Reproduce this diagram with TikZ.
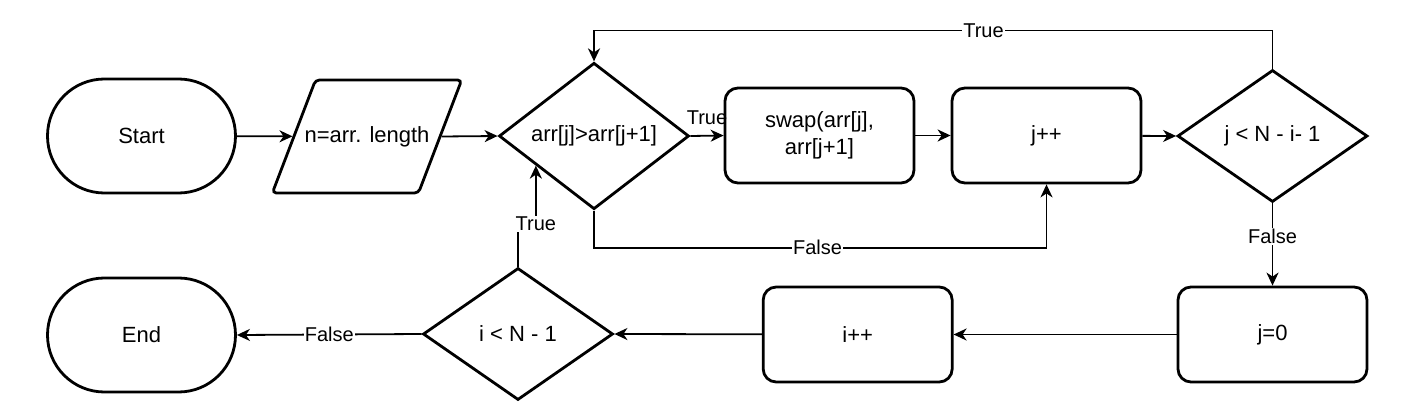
\documentclass[tikz,border=0pt]{standalone}
\usepackage{fontspec}
\setmainfont{Liberation Sans}
\usetikzlibrary{shapes.geometric, arrows.meta}

\begin{document}
\begin{tikzpicture}[x=1pt, y=-1pt,
    >={Stealth[length=13pt, width=12pt, inset=4pt]},
    every node/.style={font=\fontsize{22}{27}\selectfont},
    terminal/.style={draw, line width=2.8pt, rectangle, rounded corners=56.9pt,
      minimum width=188pt, minimum height=114pt},
    io/.style={draw, line width=2.8pt, trapezium, trapezium left angle=69,
      trapezium right angle=111, trapezium stretches body=true, rounded corners=4pt,
      inner xsep=-11pt, inner ysep=46pt, minimum height=113pt},
    decision/.style={draw, line width=2.8pt, diamond, inner sep=0pt,
      minimum width=190pt, minimum height=132pt},
    process/.style={draw, line width=2.8pt, rectangle, rounded corners=13pt,
      minimum width=189pt, minimum height=95pt, align=center},
    link/.style={line width=1.8pt},
    lbl/.style={font=\fontsize{20}{24}\selectfont, fill=white, inner sep=1pt}]

  \useasboundingbox (0,0) rectangle (1421,417);

  % Top row
  \node[terminal] (start) at (141.5,136) {Start};
  \node[io]       (len)   at (367,136.5)  {n=arr. length};
  \node[decision] (cmp)   at (594,136)    {arr[j]>arr[j+1]};
  \node[process]  (swap)  at (819.5,135.5) {swap(arr[j],\\arr[j+1]};
  \node[process]  (incj)  at (1046.5,135.5) {j++};
  \node[decision] (loopj) at (1272.5,136)  {j < N - i- 1};

  % Bottom row
  \node[process]  (resetj) at (1272.5,334.5) {j=0};
  \node[process]  (inci)   at (857.7,334.5)  {i++};
  \node[decision] (loopi)  at (518,334)      {i < N - 1};
  \node[terminal] (stop)   at (141.5,335)    {End};

  % Straight arrows
  \draw[link, ->] (start) -- (len);
  \draw[link, ->] (len.east) -- (cmp.west);
  \draw[link, ->] (cmp.east) -- node[lbl, fill=none, above=9pt] {True} (swap.west);
  \draw[link, ->] (swap) -- (incj);
  \draw[link, ->] (incj) -- (loopj.west);
  \draw[link, ->] (loopj.south) -- node[lbl, pos=0.4] {False} (resetj.north);
  \draw[link, ->] (resetj) -- (inci);
  \draw[link, ->] (inci) -- (loopi.east);
  \draw[link, ->] (loopi.west) -- node[lbl] {False} (stop.east);

  % Loops back
  \draw[link, ->] (loopj.north) -- ++(0,-38) -| node[lbl, pos=0.213] {True} (cmp.north);
  \draw[link, ->] (cmp.south) -- ++(0,37) -| node[lbl, pos=0.247] {False} (incj.south);
  \draw[link, ->] (loopi.north) -- ++(0,-43) -| node[lbl, pos=0.5] {True} (cmp.207);

\end{tikzpicture}
\end{document}
